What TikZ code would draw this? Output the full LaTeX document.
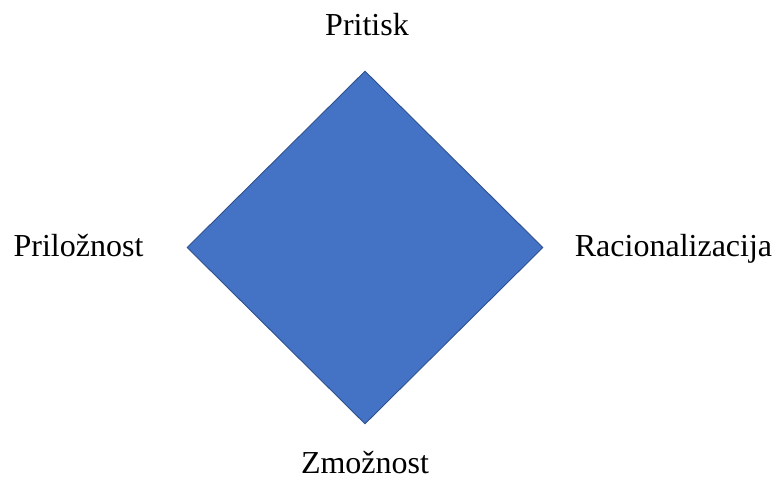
\documentclass[tikz,border=0pt]{standalone}
\usepackage{fontspec}
\setmainfont{Liberation Serif}
\usetikzlibrary{shapes.geometric}
\definecolor{dfill}{HTML}{4472C4}
\definecolor{dline}{HTML}{2F528F}
\tikzset{
  lbl/.style={anchor=base, inner sep=0pt, font=\fontsize{32}{37}\selectfont},
  diam/.style={diamond, draw=dline, fill=dfill, line width=0.9pt, inner sep=0pt, minimum width=356pt, minimum height=353pt}
}
\begin{document}
\begin{tikzpicture}[x=1pt,y=-1pt]
\useasboundingbox (0,0) rectangle (774,479);
\node[diam] (d) at (365,247.5) {};
\node[lbl] (p) at (367,35) {Pritisk};
\node[lbl] (l) at (78.5,256) {Priložnost};
\node[lbl] (r) at (673.5,256) {Racionalizacija};
\node[lbl] (z) at (365,473) {Zmožnost};
\end{tikzpicture}
\end{document}
